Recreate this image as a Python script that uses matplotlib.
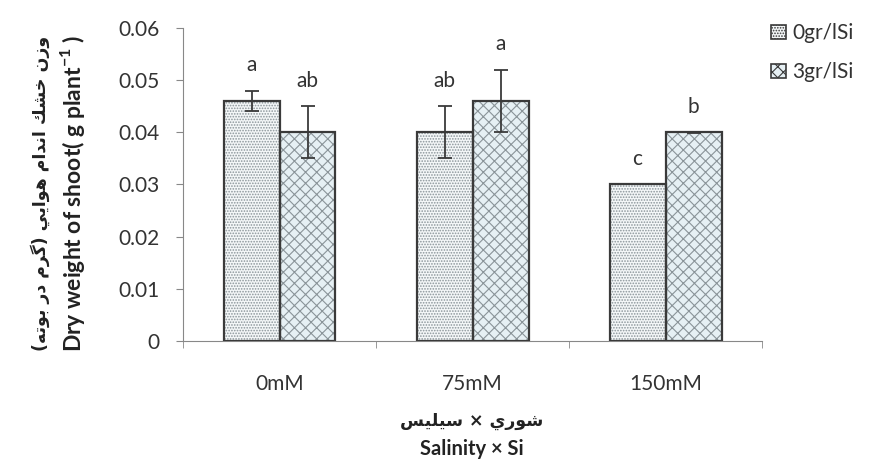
import matplotlib.pyplot as plt
import matplotlib.patches as mpatches
import numpy as np

plt.rcParams['font.family'] = ['Lato', 'DejaVu Sans']
plt.rcParams['mathtext.fontset'] = 'custom'
plt.rcParams['mathtext.rm'] = 'Lato'
plt.rcParams['mathtext.bf'] = 'Lato:bold'
plt.rcParams['hatch.linewidth'] = 0.8

# Dados
categorias = ['0mM', '75mM', '150mM']
series = ['0gr/lSi', '3gr/lSi']
valores = [[0.046, 0.040, 0.030],
           [0.040, 0.046, 0.040]]
erros = [[0.002, 0.005, 0.0],
         [0.005, 0.006, 0.0001]]
letras = [['a', 'ab', 'c'],
          ['ab', 'a', 'b']]

ylabel_fa = 'وزن خشك اندام هوايي (گرم در بوته)'
ylabel_en = r'Dry weight of shoot( g plant$^{\mathbf{-1}}$ )'
xlabel_fa = 'شوري × سيليس'
xlabel_en = 'Salinity × Si'

# formas de apresentacao arabes (isolada, final, inicial, medial)
formas = {
    'ا': ('\uFE8D', '\uFE8E', None, None),
    'ب': ('\uFE8F', '\uFE90', '\uFE91', '\uFE92'),
    'ة': ('\uFE93', '\uFE94', None, None),
    'ت': ('\uFE95', '\uFE96', '\uFE97', '\uFE98'),
    'خ': ('\uFEA5', '\uFEA6', '\uFEA7', '\uFEA8'),
    'د': ('\uFEA9', '\uFEAA', None, None),
    'ر': ('\uFEAD', '\uFEAE', None, None),
    'ز': ('\uFEAF', '\uFEB0', None, None),
    'س': ('\uFEB1', '\uFEB2', '\uFEB3', '\uFEB4'),
    'ش': ('\uFEB5', '\uFEB6', '\uFEB7', '\uFEB8'),
    'ك': ('\uFED9', '\uFEDA', '\uFEDB', '\uFEDC'),
    'ل': ('\uFEDD', '\uFEDE', '\uFEDF', '\uFEE0'),
    'م': ('\uFEE1', '\uFEE2', '\uFEE3', '\uFEE4'),
    'ن': ('\uFEE5', '\uFEE6', '\uFEE7', '\uFEE8'),
    'ه': ('\uFEE9', '\uFEEA', '\uFEEB', '\uFEEC'),
    'و': ('\uFEED', '\uFEEE', None, None),
    'ي': ('\uFEF1', '\uFEF2', '\uFEF3', '\uFEF4'),
    'گ': ('\uFB92', '\uFB93', '\uFB94', '\uFB95'),
}


def rtl(texto):
    out = []
    for i, ch in enumerate(texto):
        if ch not in formas:
            out.append(ch)
            continue
        ant = texto[i - 1] if i > 0 else ''
        prox = texto[i + 1] if i + 1 < len(texto) else ''
        liga_ant = ant in formas and formas[ant][2] is not None
        liga_prox = prox in formas and formas[ch][2] is not None
        iso, fin, ini, med = formas[ch]
        if liga_ant and liga_prox:
            out.append(med)
        elif liga_ant:
            out.append(fin)
        elif liga_prox:
            out.append(ini)
        else:
            out.append(iso)
    s = ''.join(reversed(out))
    return s.translate(str.maketrans('()', ')('))


fig = plt.figure(figsize=(8.82, 4.65), dpi=100)
ax = fig.add_axes([0.2075, 0.2667, 0.6565, 0.6731])

x = np.arange(len(categorias))
w = 0.29
cores = ['#f4f7f8', '#e6f0f4']
hatches = ['......', 'xxx']
borda = '#3a3a3a'

handles = []
for i in range(2):
    pos = x + (i - 0.5) * w
    # preenchimento com hachura cinza
    ax.bar(pos, valores[i], w, color=cores[i], edgecolor='#8a9499',
           hatch=hatches[i], linewidth=0, zorder=2)
    # contorno escuro
    ax.bar(pos, valores[i], w, fill=False, edgecolor=borda, linewidth=1.6, zorder=3)
    ax.errorbar(pos, valores[i], yerr=erros[i], fmt='none', ecolor='#3a3a3a',
                elinewidth=1.3, capsize=5, capthick=1.3, zorder=4)
    for p, v, e, l in zip(pos, valores[i], erros[i], letras[i]):
        ax.annotate(l, (p, v + e), xytext=(0, 11), textcoords='offset points',
                    ha='center', va='bottom', fontsize=15, color='#333333')
    handles.append(mpatches.Patch(facecolor=cores[i], edgecolor=borda,
                                  hatch=hatches[i], linewidth=1.2, label=series[i]))

ax.set_xlim(-0.5, 2.5)
ax.set_ylim(0, 0.06)
ax.set_yticks(np.arange(0, 0.061, 0.01))
ax.set_yticklabels(['0'] + [f'{v:.2f}' for v in np.arange(0.01, 0.061, 0.01)])
ax.set_xticks(x)
ax.set_xticklabels(categorias)
ax.set_xticks([-0.5, 0.5, 1.5, 2.5], minor=True)
ax.tick_params(axis='x', which='major', length=0, pad=24, labelsize=15, colors='#333333')
ax.tick_params(axis='x', which='minor', length=5, direction='out', color='#888888')
ax.tick_params(axis='y', length=5, direction='out', color='#888888', labelsize=15,
               labelcolor='#333333', pad=12)
for s in ['top', 'right']:
    ax.spines[s].set_visible(False)
for s in ['left', 'bottom']:
    ax.spines[s].set_color('#888888')

# rotulos
fig.text(0.045, 0.585, rtl(ylabel_fa), rotation=90, ha='center', va='center',
         fontsize=12.5, fontweight='bold', family='DejaVu Sans', color='#222222')
fig.text(0.082, 0.585, ylabel_en, rotation=90, ha='center', va='center',
         fontsize=16.5, fontweight='bold', color='#222222')
fig.text(0.535, 0.095, rtl(xlabel_fa), ha='center', va='center',
         fontsize=12.5, fontweight='bold', family='DejaVu Sans', color='#222222')
fig.text(0.535, 0.035, xlabel_en, ha='center', va='center',
         fontsize=14.5, fontweight='bold', color='#222222')

fig.legend(handles=handles, loc='upper left', bbox_to_anchor=(0.853, 0.99),
           frameon=False, fontsize=15, handlelength=0.7, handleheight=0.7,
           handletextpad=0.3, labelspacing=0.9, labelcolor='#333333')

fig.savefig('out.png', dpi=100)
